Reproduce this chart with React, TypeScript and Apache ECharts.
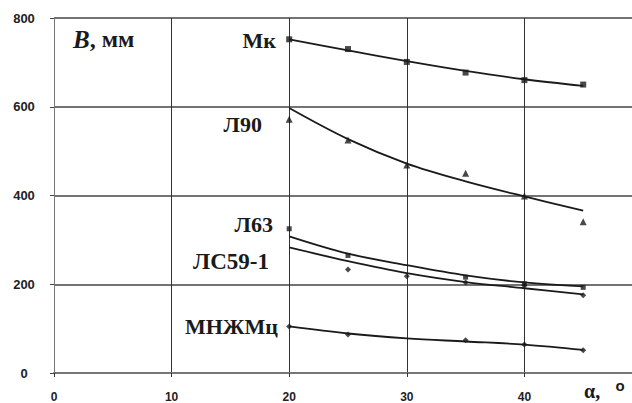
import { useEffect, useRef } from "react";
import * as echarts from "echarts";

// angle values (degrees) where the alloys were measured
const ALPHA = [20, 25, 30, 35, 40, 45];
const X_TICKS = [0, 10, 20, 30, 40, 50];
const Y_TICKS = [0, 200, 400, 600, 800];

// fitted trend curves, B in mm
const MK_FIT = [752, 727, 703, 681, 662, 647];
const L90_FIT = [597, 527, 472, 432, 398, 366];
const L63_FIT = [308, 269, 243, 220, 204, 195];
const LS59_FIT = [283, 252, 225, 205, 191, 177];
const MNZH_FIT = [105, 89, 78, 71, 64, 52];

// measured points (null = no marker at that angle)
const MK_PTS = [752, 730, 701, 677, 660, 650];
const L90_PTS = [572, 525, 469, 450, 399, 341];
const L63_PTS = [325, 265, null, 216, 201, 193];
const LS59_PTS = [null, 233, 218, 204, 197, 175];
const MNZH_PTS = [105, 87, null, 74, 64, 51];

const LABELS = ["Мк", "Л90", "Л63", "ЛС59-1", "МНЖМц"];

const INK = "#1a1a1a";
const SERIF = "'Liberation Serif', 'Times New Roman', 'DejaVu Serif', serif";
const SANS = "'Liberation Sans', Arial, sans-serif";

function fit(vals: number[]) {
  return ALPHA.map((a, i) => [a, vals[i]]);
}
function pts(vals: (number | null)[]) {
  return ALPHA.map((a, i) => (vals[i] == null ? null : [a, vals[i]])).filter(
    (p) => p !== null
  ) as number[][];
}

function fitSeries(name: string, vals: number[]) {
  return {
    name,
    type: "line",
    data: fit(vals),
    smooth: 0.35,
    showSymbol: false,
    symbol: "none",
    lineStyle: { color: INK, width: 1.8 },
    z: 3,
  };
}
function ptSeries(name: string, vals: (number | null)[], symbol: string, size: number) {
  return {
    name: name + " pts",
    type: "scatter",
    data: pts(vals),
    symbol,
    symbolSize: size,
    itemStyle: { color: INK },
    z: 4,
  };
}

export default function App() {
  const ref = useRef<HTMLDivElement>(null);

  useEffect(() => {
    if (!ref.current) return;
    const chart = echarts.init(ref.current, undefined, { renderer: "svg" });
    const xMin = X_TICKS[0];
    const xMax = X_TICKS[X_TICKS.length - 1];
    const yMin = Y_TICKS[0];
    const yMax = Y_TICKS[Y_TICKS.length - 1];

    const labelText = (text: string, right: number, cy: number, size = 22) => ({
      type: "text",
      x: right,
      y: cy,
      style: {
        text,
        fontFamily: SERIF,
        fontWeight: "bold",
        fontSize: size,
        fill: INK,
        textAlign: "right",
        textVerticalAlign: "middle",
      },
      z: 10,
    });

    chart.setOption({
      animation: false,
      backgroundColor: "#ffffff",
      grid: { left: 54, right: 0, top: 18, bottom: 29.5, containLabel: false },
      xAxis: {
        type: "value",
        min: xMin,
        max: xMax,
        interval: 10,
        axisLine: { show: true, lineStyle: { color: "#777", width: 2 } },
        axisTick: { show: true, length: 4, lineStyle: { color: "#333" } },
        splitLine: { show: true, lineStyle: { color: "#333", width: 1 } },
        axisLabel: {
          margin: 18,
          showMaxLabel: false,
          formatter: (v: number) => (v >= xMax ? "" : String(v)),
          color: "#222",
          fontFamily: SANS,
          fontWeight: "bold",
          fontSize: 12,
        },
      },
      yAxis: {
        type: "value",
        min: yMin,
        max: yMax,
        interval: 200,
        axisLine: { show: true, lineStyle: { color: "#777", width: 1 } },
        axisTick: { show: true, length: 4, lineStyle: { color: "#444" } },
        splitLine: { show: true, lineStyle: { color: "#444", width: 1.5 } },
        axisLabel: {
          margin: 30,
          align: "center",
          color: "#222",
          fontFamily: SANS,
          fontWeight: "bold",
          fontSize: 13,
        },
      },
      series: [
        fitSeries(LABELS[0], MK_FIT),
        fitSeries(LABELS[1], L90_FIT),
        fitSeries(LABELS[2], L63_FIT),
        fitSeries(LABELS[3], LS59_FIT),
        fitSeries(LABELS[4], MNZH_FIT),
        ptSeries(LABELS[0], MK_PTS, "rect", 6),
        ptSeries(LABELS[1], L90_PTS, "triangle", 7),
        ptSeries(LABELS[2], L63_PTS, "rect", 5),
        ptSeries(LABELS[3], LS59_PTS, "diamond", 6),
        ptSeries(LABELS[4], MNZH_PTS, "diamond", 6),
      ],
      graphic: [
        {
          type: "text",
          x: 73,
          y: 39,
          style: {
            text: "{b|B}, мм",
            fontFamily: SERIF,
            fontWeight: "bold",
            fontSize: 24,
            fill: INK,
            textVerticalAlign: "middle",
            rich: {
              b: {
                fontStyle: "italic",
                fontWeight: "bold",
                fontSize: 25,
                fontFamily: SERIF,
              },
            },
          },
          z: 10,
        },
        labelText(LABELS[0], 276, 40),
        labelText(LABELS[1], 262, 124),
        labelText(LABELS[2], 273, 224),
        labelText(LABELS[3], 269, 261, 23),
        labelText(LABELS[4], 278, 326),
        {
          type: "text",
          x: 584,
          y: 391,
          style: {
            text: "α,",
            fontFamily: SERIF,
            fontWeight: "bold",
            fontSize: 20,
            fill: INK,
            textVerticalAlign: "middle",
          },
          z: 10,
        },
        {
          type: "text",
          x: 620,
          y: 385,
          style: {
            text: "о",
            fontFamily: SANS,
            fontWeight: "bold",
            fontSize: 15,
            fill: INK,
            textAlign: "center",
            textVerticalAlign: "middle",
          },
          z: 10,
        },
      ],
    });
    return () => chart.dispose();
  }, []);

  return (
    <div
      style={{
        position: "fixed",
        left: 0,
        top: 0,
        width: 632,
        height: 403,
        overflow: "hidden",
        background: "#fff",
      }}
    >
      <div ref={ref} style={{ width: 642, height: 403 }} />
    </div>
  );
}
